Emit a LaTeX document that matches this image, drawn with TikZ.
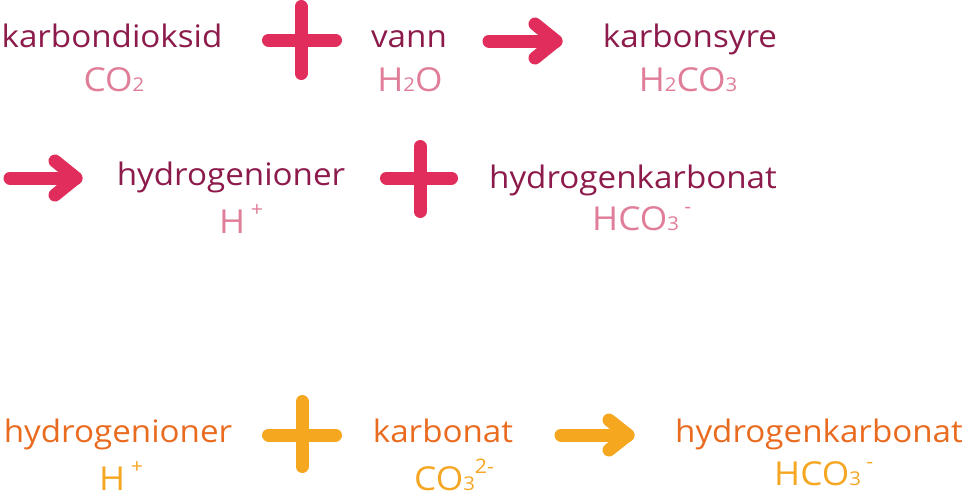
\documentclass[tikz,border=0pt]{standalone}
\usepackage{fontspec}
\setmainfont[FakeStretch=1.07]{Open Sans}
\definecolor{namered}{HTML}{8C1A4B}
\definecolor{formred}{HTML}{E07D98}
\definecolor{symred}{HTML}{E02D5B}
\definecolor{nameor}{HTML}{E96B1F}
\definecolor{formor}{HTML}{F5A623}
\definecolor{symor}{HTML}{F5A720}
\newcommand\lowsub[1]{{\fontsize{19}{19}\selectfont #1}}
\newcommand\highsup[1]{\raisebox{17pt}{\fontsize{20}{20}\selectfont #1}}
\tikzset{
  chemname/.style={font=\fontsize{31}{32}\selectfont, inner sep=0pt, anchor=base},
  chemform/.style={font=\fontsize{33}{34}\selectfont, inner sep=0pt, anchor=base},
  plussign/.style={line width=13pt, line cap=round},
  arrowsign/.style={line width=13pt, line cap=round, line join=round},
}
\begin{document}
\begin{tikzpicture}[x=1pt,y=-1pt]
\useasboundingbox (0,0) rectangle (963,499);
% Row 1
\node[chemname, text=namered] (kd) at (112,47) {karbondioksid};
\node[chemform, text=formred] (co2) at (114,91) {CO\lowsub{2}};
\node[chemname, text=namered] (vann) at (409,47) {vann};
\node[chemform, text=formred] (h2o) at (410,91) {H\lowsub{2}O};
\node[chemname, text=namered] (ks) at (690,47) {karbonsyre};
\node[chemform, text=formred] (h2co3) at (688,91) {H\lowsub{2}CO\lowsub{3}};
\draw[plussign, symred] (268.5,40) -- (335.5,40) (301,6.5) -- (301,73.5);
\coordinate (a1s) at (489,41);
\coordinate (a1t) at (556,41);
\draw[arrowsign, symred] (a1s) -- (a1t);
\draw[arrowsign, symred] (535,24) -- (a1t) -- (535,58);
% Row 2
\coordinate (a2s) at (10,178);
\coordinate (a2t) at (76,178);
\draw[arrowsign, symred] (a2s) -- (a2t);
\draw[arrowsign, symred] (55,161) -- (a2t) -- (55,195);
\node[chemname, text=namered] (hi1) at (231,185) {hydrogenioner};
\node[chemform, text=formred, anchor=base west] (hp1) at (219,233) {H\,\highsup{+}};
\draw[plussign, symred] (386.5,178) -- (451.5,178) (420,146.5) -- (420,211.5);
\node[chemname, text=namered] (hk1) at (633,188) {hydrogenkarbonat};
\node[chemform, text=formred, anchor=base west] (hco3a) at (592,230) {HCO\lowsub{3}\,\highsup{-}};
% Row 3
\node[chemname, text=nameor] (hi2) at (118,442) {hydrogenioner};
\node[chemform, text=formor, anchor=base west] (hp2) at (99,490) {H\,\highsup{+}};
\draw[plussign, symor] (268.5,435) -- (335.5,435) (302,401.5) -- (302,466.5);
\node[chemname, text=nameor] (kb) at (443,442) {karbonat};
\node[chemform, text=formor, anchor=base west] (co3) at (414,490) {CO\lowsub{3}\highsup{2-}};
\coordinate (a3s) at (561,435);
\coordinate (a3t) at (628,435);
\draw[arrowsign, symor] (a3s) -- (a3t);
\draw[arrowsign, symor] (609,420) -- (a3t) -- (609,450);
\node[chemname, text=nameor] (hk2) at (819,442) {hydrogenkarbonat};
\node[chemform, text=formor, anchor=base west] (hco3b) at (774,485) {HCO\lowsub{3}\,\highsup{-}};
\end{tikzpicture}
\end{document}
